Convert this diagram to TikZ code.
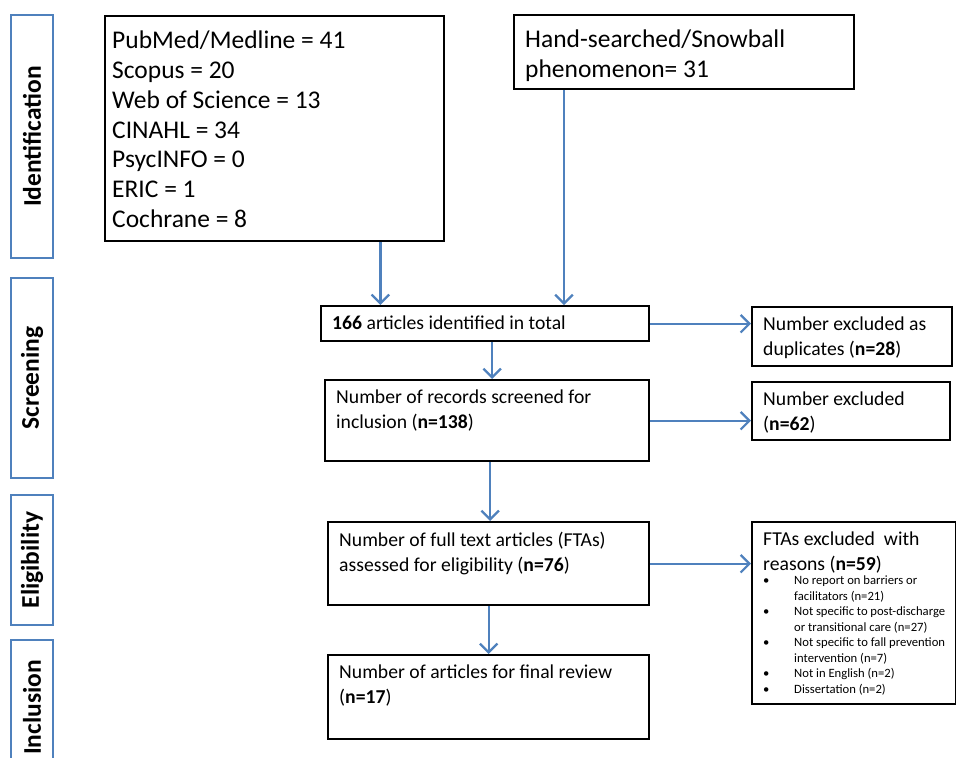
\documentclass[tikz,border=0pt]{standalone}
\usepackage{fontspec}
\setmainfont{Carlito}
\usetikzlibrary{arrows.meta}
\definecolor{flowblue}{RGB}{79,129,189}
\newcommand{\toppad}{0.1cm}

\tikzset{
    box/.style n args={2}{draw=black, line width=1.4pt, anchor=north west,
        inner xsep=0.22cm, inner ysep=0.1cm,
        execute at begin node={\begin{minipage}[t][#2][t]{#1}\vspace*{\toppad}},
        execute at end node={\end{minipage}}},
    stage/.style={draw=flowblue, line width=1.3pt, rotate=90, minimum height=0.84cm,
        inner sep=0pt, font=\fontsize{14.5}{17}\selectfont\bfseries},
    flow/.style={draw=flowblue, line width=1.3pt, -{Straight Barb[length=5pt,width=10pt]}},
    big/.style={font=\fontsize{14.5}{17}\selectfont, /utils/exec=\def\toppad{0.19cm}},
    std/.style={font=\fontsize{11.2}{14.2}\selectfont, /utils/exec=\def\toppad{0.1cm}},
}

\begin{document}
\begin{tikzpicture}[x=0.02cm, y=-0.02cm]
        \useasboundingbox (0, 0) rectangle (956, 757);

        % Stages
        \node[stage, minimum width=4.86cm] at (32, 136.5)  (ident)  {Identification};
        \node[stage, minimum width=4.00cm] at (32, 378)    (screen) {Screening};
        \node[stage, minimum width=2.60cm] at (32, 560)    (elig)   {Eligibility};
        \node[stage, minimum width=2.70cm] at (32, 707.5)  (incl)   {Inclusion};

        % Nodes
        \node[box={6.50cm}{4.30cm}, inner xsep=0.14cm, big] at (104, 15)  (db)
            {PubMed/Medline = 41\\ Scopus = 20\\ Web of Science = 13\\ CINAHL = 34\\ PsycINFO = 0\\ ERIC = 1\\ Cochrane = 8};
        \node[box={6.36cm}{1.28cm}, big] at (513, 14)  (hand)
            {Hand-searched/Snowball\\ phenomenon= 31};
        \node[box={6.12cm}{0.50cm}, std] at (320, 305)  (total)
            {\textbf{166} articles identified in total};
        \node[box={6.04cm}{1.42cm}, std] at (324, 379)  (screened)
            {Number of records screened for\\ inclusion (\textbf{n=138})};
        \node[box={3.56cm}{0.98cm}, std] at (751, 306)  (dup)
            {Number excluded as\\ duplicates (\textbf{n=28})};
        \node[box={3.52cm}{0.96cm}, std] at (751, 381)  (excl)
            {Number excluded\\ (\textbf{n=62})};
        \node[box={5.98cm}{1.46cm}, std] at (327, 521)  (fta)
            {Number of full text articles (FTAs)\\ assessed for eligibility (\textbf{n=76})};
        \node[box={5.98cm}{1.48cm}, std] at (327, 654)  (final)
            {Number of articles for final review\\ (\textbf{n=17})};
        \node[box={3.64cm}{3.44cm}, std] at (751, 521)  (ftaex)
            {FTAs excluded\ \ with\\ reasons (\textbf{n=59})\par\vspace{-0.8pt}
            {\fontsize{7.2}{8.8}\selectfont
            \begin{list}{\textbullet\hfill}{\setlength{\leftmargin}{0.62cm}\setlength{\labelwidth}{0.62cm}%
                \setlength{\labelsep}{0pt}\setlength{\itemsep}{0pt}\setlength{\parsep}{0pt}%
                \setlength{\topsep}{0pt}\setlength{\partopsep}{0pt}}
            \item No report on barriers or\\ facilitators (n=21)
            \item Not specific to post-discharge\\ or transitional care (n=27)
            \item Not specific to fall prevention\\ intervention (n=7)
            \item Not in English (n=2)
            \item Dissertation (n=2)
            \end{list}}};

        % Arrows
        \draw[flow] ([xshift=-1.30cm]db.south east) -- ([xshift=-1.30cm]db.south east |- total.north);
        \draw[flow] ([xshift=1.02cm]hand.south west) -- ([xshift=1.02cm]hand.south west |- total.north);
        \draw[flow] (total.east) -- (total.east -| dup.west);
        \draw[flow] ([xshift=0.14cm]total.south) -- ([xshift=0.14cm]total.south |- screened.north);
        \draw[flow] (screened.east) -- (screened.east -| excl.west);
        \draw[flow] ([xshift=0.06cm]screened.south) -- ([xshift=0.06cm]screened.south |- fta.north);
        \draw[flow] (fta.east) -- (fta.east -| ftaex.west);
        \draw[flow] (fta.south) -- (fta.south |- final.north);

    \end{tikzpicture}
\end{document}
